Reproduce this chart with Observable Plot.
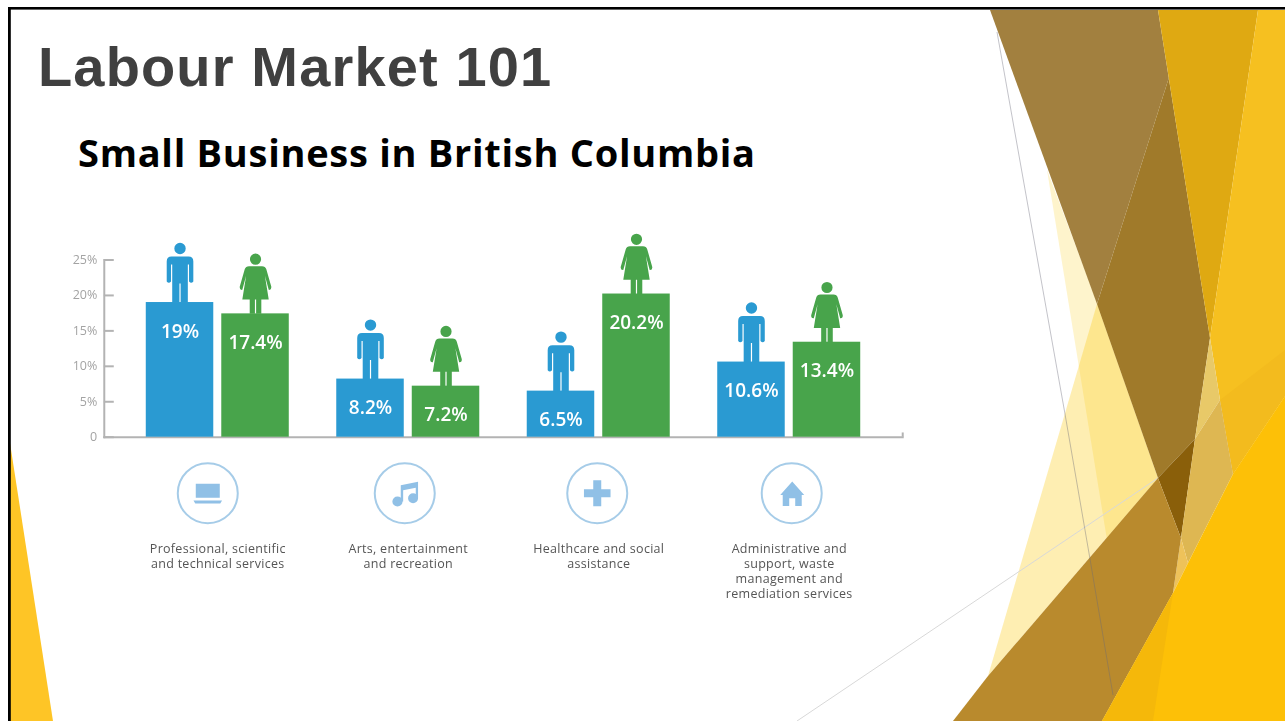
<!DOCTYPE html>
<html>
<head>
<meta charset="utf-8">
<script src="https://cdn.jsdelivr.net/npm/d3@7"></script>
<script src="https://cdn.jsdelivr.net/npm/@observablehq/plot@0.6"></script>
<style>
html,body{margin:0;padding:0;background:#fff;overflow:hidden}
#slide{position:relative;width:1285px;height:721px;overflow:hidden;background:#fff}
#deco{position:absolute;left:0;top:0}
#chart{position:absolute;left:0;top:0;filter:blur(.35px)}
h1{position:absolute;margin:0;left:38px;top:33px;font:bold 56px/68px "Liberation Sans",sans-serif;letter-spacing:1.15px;color:#404040;white-space:nowrap}
h2{position:absolute;margin:0;left:78px;top:128px;font:bold 38px/48px "Open Sans",sans-serif;letter-spacing:.72px;color:#000;white-space:nowrap}
.cat-label{letter-spacing:.29px}
</style>
</head>
<body>
<div id="slide">
<svg id="deco" width="1285" height="721" viewBox="0 0 1285 721">
  <polygon points="1047,170 1100,310 1158,478 1107,540" fill="#fcc800" opacity=".2"/>
  <polygon points="1097,304 1158,478 988,676" fill="#fbc800" opacity=".3"/>
  <line x1="797" y1="721" x2="1158" y2="478" stroke="#d8d8d8" stroke-width="1"/>
  <polygon points="990,10 1158,10 1168.8,78 1097,304" fill="#a2803f"/>
  <polygon points="1168.8,78 1210,338 1195,439 1158,478 1097,304" fill="#a07a2a"/>
  <polygon points="1195,439 1181,538 1158,478" fill="#8a5f0a"/>
  <polygon points="1158,10 1258,10 1210,338" fill="#dfa912"/>
  <polygon points="1258,10 1285,10 1285,396 1233,474 1220,400 1210,338" fill="#f6c020"/>
  <polygon points="1220,400 1285,350 1285,396 1233,474" fill="#f3bb1e"/>
  <polygon points="1210,338 1220,400 1195,439" fill="#e8c968"/>
  <polygon points="1195,439 1220,400 1233,474 1188,563 1181,538" fill="#deb752"/>
  <polygon points="1181,538 1188,563 1173,593" fill="#eec25a"/>
  <polygon points="1158,478 1181,538 1173,593 1102,721 953,721 988,676" fill="#b98a2d"/>
  <polygon points="1285,396 1233,474 1188,563 1173,593 1102,721 1285,721" fill="#fdc007"/>
  <polygon points="1173,593 1153,721 1102,721" fill="#f5b80a"/>
  <polyline points="997,32 1065,414 1090,559 1113,695" fill="none" stroke="#6a6a78" stroke-opacity=".4" stroke-width="1"/>
  <polygon points="10,443 53,721 10,721" fill="#fec526"/>
  <rect x="8" y="7" width="1277" height="2.6" fill="#000"/>
  <rect x="8" y="7" width="2.8" height="714" fill="#000"/>
</svg>
<h1>Labour Market 101</h1>
<h2>Small Business in British Columbia</h2>
<div id="chart"></div>
</div>
<script>
// Data
const categories = [
  "Professional, scientific\nand technical services",
  "Arts, entertainment\nand recreation",
  "Healthcare and social\nassistance",
  "Administrative and\nsupport, waste\nmanagement and\nremediation services"
];
const genders = ["Men", "Women"];
const menShare = [19, 8.2, 6.5, 10.6];
const womenShare = [17.4, 7.2, 20.2, 13.4];
const menLabels = ["19%", "8.2%", "6.5%", "10.6%"];
const womenLabels = ["17.4%", "7.2%", "20.2%", "13.4%"];
const yTicks = [0, 5, 10, 15, 20, 25];

const BLUE = "#2a9ad2", GREEN = "#48a44b";

const rows = categories.flatMap((category, i) => [
  {category, gender: "Men", value: menShare[i], label: menLabels[i]},
  {category, gender: "Women", value: womenShare[i], label: womenLabels[i]}
]);

// Pictogram symbols: origin at the figure's feet
const manSymbol = {draw(c) {
  c.moveTo(5.7, -54); c.arc(0, -54, 5.7, 0, 2 * Math.PI); c.closePath();
  c.moveTo(-8.5, -46); c.lineTo(8.5, -46);
  c.quadraticCurveTo(13.3, -46, 13.3, -41);
  c.lineTo(13.3, -21); c.quadraticCurveTo(11.2, -18.5, 9, -21);
  c.lineTo(9, -38); c.lineTo(7.8, -38); c.lineTo(7.8, 0); c.lineTo(0.6, 0);
  c.lineTo(0.6, -19); c.lineTo(-0.6, -19); c.lineTo(-0.6, 0); c.lineTo(-7.8, 0);
  c.lineTo(-7.8, -38); c.lineTo(-9, -38); c.lineTo(-9, -21);
  c.quadraticCurveTo(-11.2, -18.5, -13.3, -21);
  c.lineTo(-13.3, -41); c.quadraticCurveTo(-13.3, -46, -8.5, -46);
  c.closePath();
}};
const womanSymbol = {draw(c) {
  c.moveTo(5.6, -54.7); c.arc(0, -54.7, 5.6, 0, 2 * Math.PI); c.closePath();
  c.moveTo(-6.5, -47.7); c.lineTo(6.5, -47.7);
  c.quadraticCurveTo(9.8, -47.7, 10.8, -44.5);
  c.lineTo(15.8, -27); c.quadraticCurveTo(16, -23.7, 13.2, -24);
  c.lineTo(9.4, -38); c.lineTo(13.2, -14.3); c.lineTo(5.8, -14.3); c.lineTo(5.8, 0);
  c.lineTo(0.6, 0); c.lineTo(0.6, -14.3); c.lineTo(-0.6, -14.3); c.lineTo(-0.6, 0);
  c.lineTo(-5.8, 0); c.lineTo(-5.8, -14.3); c.lineTo(-13.2, -14.3); c.lineTo(-9.4, -38);
  c.lineTo(-13.2, -24); c.quadraticCurveTo(-16, -23.7, -15.8, -27);
  c.lineTo(-10.8, -44.5); c.quadraticCurveTo(-9.8, -47.7, -6.5, -47.7);
  c.closePath();
}};

// Category glyphs: origin at the circle's centre
const laptopGlyph = {draw(c) {
  c.rect(-12, -9.5, 24, 14);
  c.moveTo(-14.3, 7.3); c.lineTo(14.3, 7.3); c.lineTo(12.5, 10.3); c.lineTo(-12.5, 10.3); c.closePath();
}};
const noteGlyph = {draw(c) {
  c.moveTo(-2.2, 8.3); c.arc(-7.3, 8.3, 5.1, 0, 2 * Math.PI); c.closePath();
  c.moveTo(13.3, 5); c.arc(8.3, 5, 5, 0, 2 * Math.PI); c.closePath();
  c.moveTo(-4, -8); c.lineTo(13.3, -11.5); c.lineTo(13.3, 5); c.lineTo(11, 5); c.lineTo(11, -5.5);
  c.lineTo(-1.6, -3); c.lineTo(-1.6, 8.3); c.lineTo(-4, 8.3); c.closePath();
}};
const plusGlyph = {draw(c) {
  c.moveTo(-4, -13); c.lineTo(4, -13); c.lineTo(4, -4); c.lineTo(13.3, -4); c.lineTo(13.3, 4);
  c.lineTo(4, 4); c.lineTo(4, 13); c.lineTo(-4, 13); c.lineTo(-4, 4); c.lineTo(-13.3, 4);
  c.lineTo(-13.3, -4); c.lineTo(-4, -4); c.closePath();
}};
const houseGlyph = {draw(c) {
  c.moveTo(0.5, -11.7); c.lineTo(12.5, 1.7); c.lineTo(10, 1.7); c.lineTo(10, 12.7); c.lineTo(3.5, 12.7);
  c.lineTo(3.5, 5); c.lineTo(-2.5, 5); c.lineTo(-2.5, 12.7); c.lineTo(-9, 12.7); c.lineTo(-9, 1.7);
  c.lineTo(-11.5, 1.7); c.closePath();
}};
const glyphs = [laptopGlyph, noteGlyph, plusGlyph, houseGlyph];
const iconNudge = [-10, -3.5, -1.5, 2.5];

const bodyFont = '"Open Sans", sans-serif';
const first = () => categories[0];
const last = () => categories[categories.length - 1];
const AXIS_GAP = 42;   // the axis ends sit this far outside the first and last bars
const AXIS = {stroke: "#b3b3b3", strokeWidth: 2};

const iconMarks = categories.flatMap((c, i) => [
  Plot.dot([c], {fx: d => d, r: 30, frameAnchor: "bottom", dy: 56, dx: iconNudge[i],
    fill: "#fff", stroke: "#a6cce8", strokeWidth: 2}),
  Plot.dot([c], {fx: d => d, symbol: glyphs[i], frameAnchor: "bottom", dy: 56, dx: iconNudge[i],
    fill: "#90c0e6"})
]);

const chart = Plot.plot({
  width: 1285, height: 721,
  marginLeft: 104, marginRight: 383, marginTop: 259.5, marginBottom: 284.3,
  style: {background: "transparent", fontFamily: bodyFont},
  fx: {domain: categories, axis: null, paddingInner: 0.2493, paddingOuter: 0.2193, round: false},
  x: {domain: genders, axis: null, paddingInner: 0.106, paddingOuter: 0, round: false},
  y: {domain: [0, 25], axis: null},
  color: {domain: genders, range: [BLUE, GREEN]},
  marks: [
    Plot.frame({anchor: "left", facet: "super", insetLeft: -AXIS_GAP, ...AXIS}),
    Plot.frame({anchor: "bottom", facet: "super", insetLeft: -AXIS_GAP, insetRight: -AXIS_GAP, ...AXIS}),
    Plot.ruleX(["Women"], {fx: last, x: d => d, y1: 0, y2: 0.6, dx: 33.75 + AXIS_GAP, ...AXIS}),
    Plot.ruleY(yTicks, {fx: first, y: d => d, dx: -AXIS_GAP, insetRight: 133, ...AXIS}),
    Plot.text(yTicks, {fx: first, y: d => d, frameAnchor: "left", dx: -AXIS_GAP - 7, textAnchor: "end",
      text: d => d === 0 ? "0" : `${d}%`, fill: "#a3a3a3", fontSize: 12.5}),
    Plot.barY(rows, {fx: "category", x: "gender", y: "value", fill: "gender"}),
    Plot.dot(rows.filter(d => d.gender === "Men"), {fx: "category", x: "gender", y: "value", fill: "gender", symbol: manSymbol}),
    Plot.dot(rows.filter(d => d.gender === "Women"), {fx: "category", x: "gender", y: "value", fill: "gender", symbol: womanSymbol}),
    Plot.text(rows, {fx: "category", x: "gender", y: "value", text: "label", dy: 29, fill: "#fff", fontSize: 19, fontWeight: 600}),
    ...iconMarks,
    Plot.text(categories, {fx: d => d, text: d => d, frameAnchor: "bottom", lineAnchor: "top", dy: 105,
      fill: "#555", fontSize: 12.5, lineHeight: 1.2, className: "cat-label"})
  ]
});
document.getElementById("chart").append(chart);
</script>
</body>
</html>
